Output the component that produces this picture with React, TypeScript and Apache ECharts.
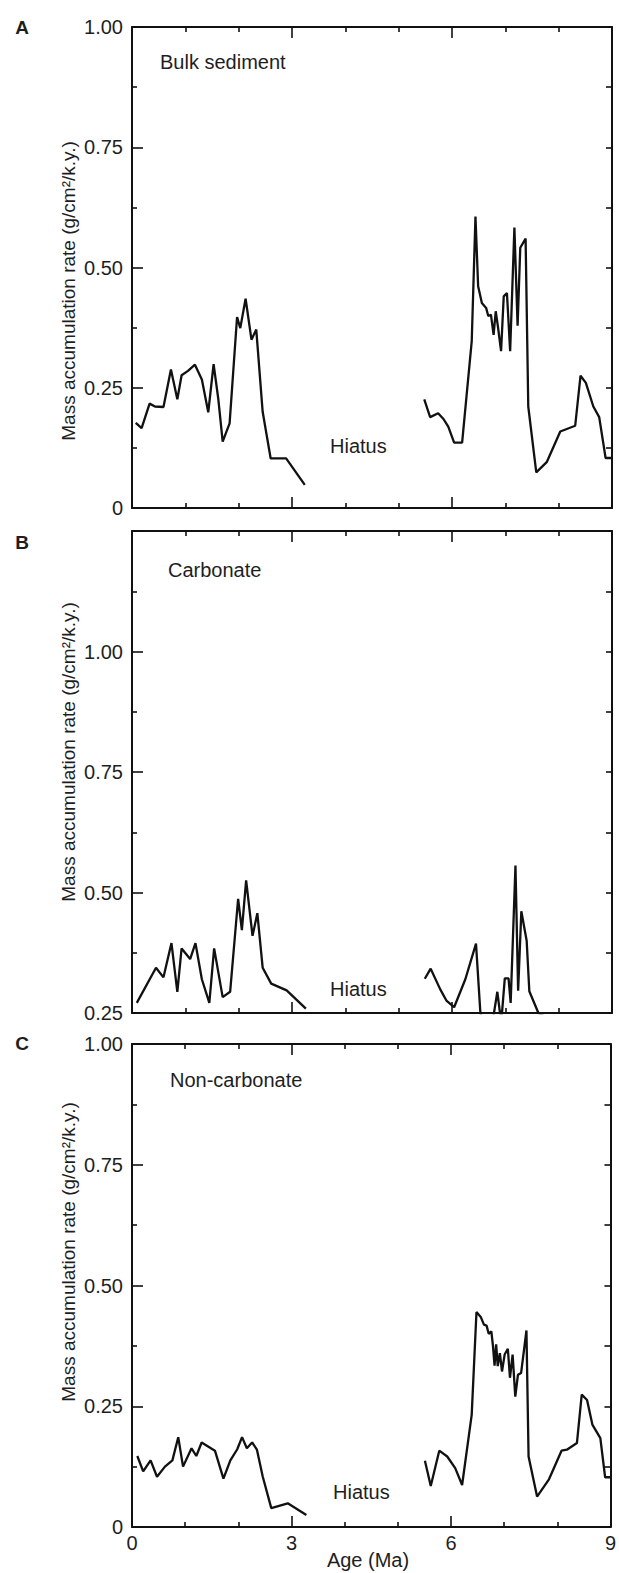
import React, { useEffect, useRef } from "react";
import * as echarts from "echarts";

// Panel A – bulk sediment (age Ma, MAR g/cm2/k.y.)
const bulkAgeOld = [0.07, 0.18, 0.33, 0.43, 0.59, 0.73, 0.85, 0.93, 1.05, 1.18, 1.31, 1.43, 1.53, 1.62, 1.7, 1.83, 1.97, 2.03, 2.13, 2.24, 2.33, 2.45, 2.6, 2.89, 3.24];
const bulkValOld = [0.177, 0.166, 0.217, 0.211, 0.21, 0.288, 0.226, 0.276, 0.285, 0.298, 0.267, 0.199, 0.299, 0.225, 0.138, 0.176, 0.397, 0.374, 0.435, 0.35, 0.371, 0.2, 0.103, 0.103, 0.048];
const bulkAgeYoung = [5.48, 5.59, 5.74, 5.84, 5.93, 6.04, 6.19, 6.37, 6.44, 6.49, 6.56, 6.64, 6.68, 6.73, 6.78, 6.82, 6.86, 6.92, 6.97, 7.03, 7.09, 7.17, 7.23, 7.28, 7.38, 7.43, 7.58, 7.78, 8.03, 8.31, 8.41, 8.51, 8.65, 8.76, 8.88, 9.0];
const bulkValYoung = [0.226, 0.189, 0.197, 0.185, 0.169, 0.136, 0.136, 0.347, 0.606, 0.461, 0.426, 0.416, 0.399, 0.402, 0.36, 0.409, 0.378, 0.326, 0.44, 0.447, 0.326, 0.583, 0.379, 0.541, 0.56, 0.211, 0.074, 0.096, 0.159, 0.171, 0.275, 0.26, 0.211, 0.189, 0.104, 0.104];

// Panel B – carbonate
const carbAgeOld = [0.09, 0.45, 0.59, 0.74, 0.85, 0.93, 1.09, 1.19, 1.31, 1.45, 1.54, 1.7, 1.84, 1.99, 2.06, 2.14, 2.26, 2.35, 2.45, 2.61, 2.9, 3.26];
const carbValOld = [0.271, 0.344, 0.324, 0.395, 0.294, 0.384, 0.362, 0.395, 0.32, 0.271, 0.384, 0.283, 0.294, 0.487, 0.422, 0.525, 0.41, 0.457, 0.344, 0.311, 0.297, 0.259];
const carbAgeYoung = [5.49, 5.6, 5.78, 5.9, 6.04, 6.25, 6.45, 6.53, 6.6, 6.72, 6.78, 6.85, 6.9, 6.93, 6.99, 7.06, 7.1, 7.19, 7.24, 7.3, 7.4, 7.45, 7.62, 7.78, 7.9];
const carbValYoung = [0.321, 0.342, 0.299, 0.275, 0.262, 0.32, 0.394, 0.254, 0.2, 0.2, 0.245, 0.294, 0.25, 0.24, 0.322, 0.322, 0.271, 0.556, 0.296, 0.461, 0.4, 0.295, 0.25, 0.24, 0.22];

// Panel C – non-carbonate
const ncAgeOld = [0.1, 0.21, 0.35, 0.47, 0.62, 0.76, 0.87, 0.96, 1.12, 1.21, 1.31, 1.56, 1.72, 1.85, 1.98, 2.07, 2.16, 2.26, 2.35, 2.46, 2.62, 2.93, 3.28];
const ncValOld = [0.147, 0.115, 0.138, 0.104, 0.125, 0.138, 0.186, 0.125, 0.163, 0.147, 0.175, 0.158, 0.1, 0.138, 0.161, 0.186, 0.163, 0.175, 0.16, 0.104, 0.039, 0.049, 0.025];
const ncAgeYoung = [5.51, 5.62, 5.78, 5.93, 6.08, 6.21, 6.39, 6.48, 6.56, 6.62, 6.67, 6.71, 6.76, 6.79, 6.82, 6.85, 6.88, 6.92, 6.96, 7.01, 7.07, 7.11, 7.16, 7.21, 7.26, 7.32, 7.42, 7.46, 7.62, 7.84, 8.08, 8.18, 8.37, 8.46, 8.56, 8.66, 8.81, 8.9, 9.0];
const ncValYoung = [0.137, 0.085, 0.158, 0.146, 0.122, 0.087, 0.232, 0.445, 0.435, 0.419, 0.417, 0.4, 0.405, 0.375, 0.334, 0.378, 0.333, 0.36, 0.322, 0.357, 0.369, 0.309, 0.357, 0.27, 0.315, 0.319, 0.407, 0.146, 0.063, 0.098, 0.158, 0.16, 0.174, 0.274, 0.263, 0.212, 0.184, 0.103, 0.103];

const xTickLabels = ["0", "3", "6", "9"];
const panelLetters = ["A", "B", "C"];
const panelTitles = ["Bulk sediment", "Carbonate", "Non-carbonate"];
const yRanges = [[0, 1], [0.25, 1.25], [0, 1]];

const FONT = "'Liberation Sans', Arial, Helvetica, sans-serif";
const INK = "#111";
const TXT = "#1e1e1e";

const zip = (a: number[], b: number[]) => a.map((x, i) => [x, b[i]]);

export default function App() {
  const ref = useRef<HTMLDivElement>(null);
  useEffect(() => {
    document.body.style.margin = "0";
    if (!ref.current) return;
    const chart = echarts.init(ref.current, null, { renderer: "svg" });

    const grids = [
      { left: 132, top: 27, width: 480, height: 481 },
      { left: 132, top: 531, width: 480, height: 482 },
      { left: 132, top: 1044, width: 480, height: 483 },
    ];

    const xAxes: any[] = [];
    const yAxes: any[] = [];
    grids.forEach((_, i) => {
      const baseX = {
        type: "value",
        gridIndex: i,
        min: 0,
        max: 9,
        interval: 3,
        axisLine: { show: true, onZero: false, lineStyle: { color: INK, width: 2 } },
        axisTick: { show: true, inside: true, length: 11, lineStyle: { color: INK, width: 1.6 } },
        minorTick: { show: true, splitNumber: 3, length: 5, lineStyle: { color: INK, width: 1.6 } },
        splitLine: { show: false },
        minorSplitLine: { show: false },
      };
      xAxes.push({
        ...baseX,
        position: "bottom",
        axisLabel: {
          show: i === 2,
          color: TXT,
          fontFamily: FONT,
          fontSize: 20,
          margin: 6,
          formatter: (v: number) => {
            const idx = [0, 3, 6, 9].indexOf(v);
            return idx >= 0 ? xTickLabels[idx] : "";
          },
        },
      });
      xAxes.push({ ...baseX, position: "top", axisLabel: { show: false } });

      const [mn, mx] = yRanges[i];
      yAxes.push({
        type: "value",
        gridIndex: i,
        min: mn,
        max: mx,
        interval: 0.25,
        position: "left",
        axisLine: { show: true, onZero: false, lineStyle: { color: INK, width: 2 } },
        axisTick: { show: true, inside: true, length: 11, lineStyle: { color: INK, width: 1.6 } },
        minorTick: { show: true, splitNumber: 2, length: 5, lineStyle: { color: INK, width: 1.6 } },
        splitLine: { show: false },
        minorSplitLine: { show: false },
        axisLabel: {
          color: TXT,
          fontFamily: FONT,
          fontSize: 20,
          margin: 9,
          formatter: (v: number) => (v > 1.01 ? "" : v === 0 ? "0" : v.toFixed(2)),
        },
      });
      yAxes.push({
        type: "value",
        gridIndex: i,
        min: mn,
        max: mx,
        interval: 0.125,
        position: "right",
        axisLine: { show: true, onZero: false, lineStyle: { color: INK, width: 2 } },
        axisTick: { show: true, inside: true, length: 6, lineStyle: { color: INK, width: 1.6 } },
        splitLine: { show: false },
        axisLabel: { show: false },
      });
    });

    const segs = [
      [zip(bulkAgeOld, bulkValOld), zip(bulkAgeYoung, bulkValYoung)],
      [zip(carbAgeOld, carbValOld), zip(carbAgeYoung, carbValYoung)],
      [zip(ncAgeOld, ncValOld), zip(ncAgeYoung, ncValYoung)],
    ];
    const series: any[] = [];
    segs.forEach((pair, i) => {
      pair.forEach((data) => {
        series.push({
          type: "line",
          xAxisIndex: i * 2,
          yAxisIndex: i * 2,
          data,
          symbol: "none",
          clip: true,
          lineStyle: { color: INK, width: 2.3 },
        });
      });
    });

    const letterY = [27, 542, 1043];
    const titlePos = [
      [160, 62],
      [168, 570],
      [170, 1080],
    ];
    const hiatusPos = [
      [330, 446],
      [330, 989],
      [333, 1492],
    ];
    const nameY = [291, 752, 1252];
    const graphics: any[] = [];
    for (let i = 0; i < 3; i++) {
      graphics.push({
        type: "text",
        x: 22,
        y: letterY[i],
        style: { text: panelLetters[i], font: `bold 19px ${FONT}`, fill: TXT, align: "center", verticalAlign: "middle" },
      });
      graphics.push({
        type: "text",
        x: titlePos[i][0],
        y: titlePos[i][1],
        style: { text: panelTitles[i], font: `20px ${FONT}`, fill: TXT, align: "left", verticalAlign: "middle" },
      });
      graphics.push({
        type: "text",
        x: hiatusPos[i][0],
        y: hiatusPos[i][1],
        style: { text: "Hiatus", font: `20px ${FONT}`, fill: TXT, align: "left", verticalAlign: "middle" },
      });
      graphics.push({
        type: "text",
        x: 68,
        y: nameY[i],
        rotation: Math.PI / 2,
        style: {
          text: "Mass accumulation rate (g/cm²/k.y.)",
          font: `19px ${FONT}`,
          fill: TXT,
          align: "center",
          verticalAlign: "middle",
        },
      });
    }
    graphics.push({
      type: "text",
      x: 368,
      y: 1560,
      style: { text: "Age (Ma)", font: `20px ${FONT}`, fill: TXT, align: "center", verticalAlign: "middle" },
    });

    chart.setOption({
      animation: false,
      backgroundColor: "#fff",
      grid: grids,
      xAxis: xAxes,
      yAxis: yAxes,
      series,
      graphic: graphics,
    });
    return () => chart.dispose();
  }, []);
  return <div ref={ref} style={{ width: 619, height: 1573 }} />;
}
